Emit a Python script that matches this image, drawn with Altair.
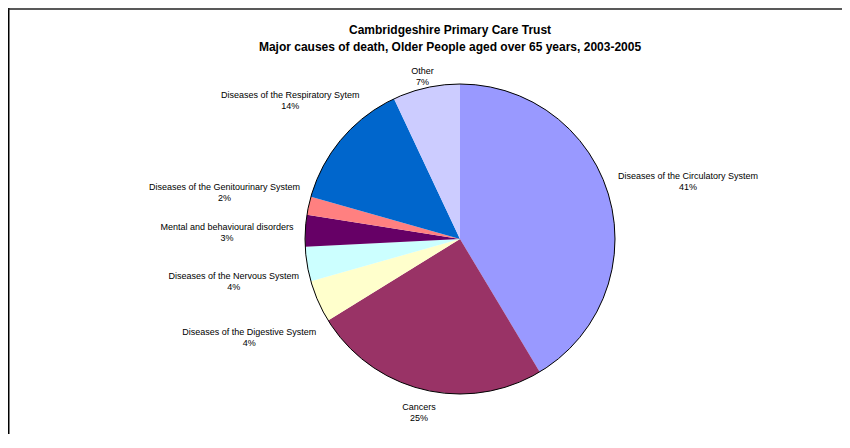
import altair as alt
import pandas as pd

# ---- data ----
causes = [
    "Diseases of the Circulatory System",
    "Cancers",
    "Diseases of the Digestive System",
    "Diseases of the Nervous System",
    "Mental and behavioural disorders",
    "Diseases of the Genitourinary System",
    "Diseases of the Respiratory Sytem",
    "Other",
]
shares = [41.4, 24.8, 4.4, 3.6, 3.3, 1.9, 13.6, 7.0]
colors = ["#9999FF", "#993366", "#FFFFCC", "#CCFFFF", "#660066", "#FF8080", "#0066CC", "#CCCCFF"]
title_lines = [
    "Cambridgeshire Primary Care Trust",
    "Major causes of death, Older People aged over 65 years, 2003-2005",
]

df = pd.DataFrame({"cause": causes, "share": shares, "order": list(range(len(causes)))})

W, H = 834, 426
CX, CY, R = 452, 231, 155
FONT = "Liberation Sans"

theta = alt.Theta("share:Q", stack=True)
order = alt.Order("order:Q")

pie = alt.Chart(df).mark_arc(outerRadius=R).encode(
    theta=theta,
    order=order,
    color=alt.Color("cause:N", scale=alt.Scale(domain=causes, range=colors), legend=None),
    x=alt.value(CX),
    y=alt.value(CY),
)

# outer outline: one arc spanning the whole total
outline = (
    alt.Chart(df)
    .transform_aggregate(share="sum(share)")
    .mark_arc(outerRadius=R, fillOpacity=0, stroke="black", strokeWidth=1)
    .encode(theta=alt.Theta("share:Q", stack=True), x=alt.value(CX), y=alt.value(CY))
)

labels = (
    alt.Chart(df)
    .transform_window(cum="sum(share)", sort=[alt.SortField("order")], frame=[None, 0])
    .transform_joinaggregate(total="sum(share)")
    .transform_calculate(
        ang="2*PI*(datum.cum - datum.share/2)/datum.total",
        hw="length(datum.cause)*2.06",
        lr=f"{R} + 4 + abs(sin(datum.ang))*(datum.hw + 8) + abs(cos(datum.ang))*9",
        txt="datum.cause + '\\n' + format(datum.share, '.0f') + '%'",
    )
    .transform_calculate(
        px=f"{CX} + datum.lr*sin(datum.ang)",
        py=f"{CY} - datum.lr*cos(datum.ang)",
    )
    .mark_text(font=FONT, fontSize=9, lineBreak="\n", lineHeight=11, align="center", baseline="middle", color="black")
    .encode(
        x=alt.X("px:Q", scale=None),
        y=alt.Y("py:Q", scale=None),
        text="txt:N",
    )
)

title = alt.Chart(pd.DataFrame({"t": ["\n".join(title_lines)]})).mark_text(
    font=FONT, fontSize=12, fontWeight="bold", lineBreak="\n", lineHeight=17,
    align="center", baseline="middle", color="black"
).encode(text="t:N", x=alt.value(442), y=alt.value(22))

border_left = alt.Chart(pd.DataFrame({"a": [0]})).mark_rule(color="black", strokeWidth=1.5).encode(
    x=alt.value(0.75), y=alt.value(0), y2=alt.value(H)
)
border_top = alt.Chart(pd.DataFrame({"a": [0]})).mark_rule(color="#222222", strokeWidth=1.5).encode(
    x=alt.value(0), x2=alt.value(W), y=alt.value(1)
)

chart = alt.layer(pie, outline, labels, title, border_left, border_top).properties(
    width=W, height=H, padding=0, autosize="none", background="white"
).configure_view(stroke=None)

chart.save("out.html", embed_options={"renderer": "svg", "actions": False})
